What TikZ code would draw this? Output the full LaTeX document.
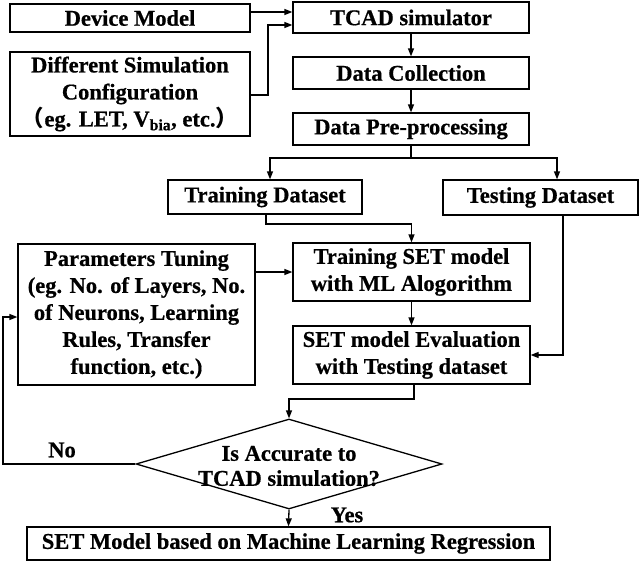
\documentclass[tikz,border=0pt]{standalone}
\usepackage{fontspec}
\setmainfont{Liberation Serif}[BoldFeatures={FakeBold=0.6}]
\newfontfamily\cjkfont{Noto Sans CJK SC}
\usetikzlibrary{shapes.geometric,arrows.meta,calc}
\tikzset{
  box/.style={draw, line width=1.3pt, inner sep=0pt, align=center,
    font=\fontsize{22.5}{27}\selectfont\bfseries},
  arr/.style={line width=1.3pt, -{Triangle[length=8pt,width=6pt]}},
  ln/.style={line width=1.3pt},
  lbl/.style={font=\fontsize{22.5}{25}\selectfont\bfseries, inner sep=0pt, align=center}
}
\begin{document}
\begin{tikzpicture}[x=1pt,y=-1pt]
\useasboundingbox (0,0) rectangle (640,562);
% boxes
\node[box, minimum width=240pt, minimum height=28pt] (dev) at (130,18) {Device Model};
\node[box, minimum width=240pt, minimum height=84pt] (dsc) at (130,94)
  {Different Simulation\\Configuration\\{\cjkfont （}eg. LET, V\textsubscript{bia}, etc.{\cjkfont ）}};
\node[box, minimum width=236pt, minimum height=31pt] (tcad) at (411,17.5) {TCAD simulator};
\node[box, minimum width=236pt, minimum height=32pt] (coll) at (411,73) {Data Collection};
\node[box, minimum width=236pt, minimum height=32pt] (pre) at (411,129) {Data Pre-processing};
\node[box, minimum width=194pt, minimum height=34pt] (train) at (265,197) {Training Dataset};
\node[box, minimum width=195pt, minimum height=35pt] (test) at (540.5,197.5) {Testing Dataset};
\node[box, minimum width=237pt, minimum height=141pt] (param) at (136.5,314.5)
  {Parameters Tuning\\(eg. No. of Layers, No.\\of Neurons, Learning\\Rules, Transfer\\function, etc.)};
\node[box, minimum width=237pt, minimum height=58pt] (tset) at (411.5,272)
  {Training SET model\\with ML Alogorithm};
\node[box, minimum width=237pt, minimum height=58pt] (eval) at (411.5,355)
  {SET model Evaluation\\with Testing dataset};
\node[draw, diamond, line width=1.3pt, inner sep=0pt, minimum width=306pt, minimum height=90pt] (dia) at (289,464) {};
\node[lbl] (diat) at (289,466) {Is Accurate to\\TCAD simulation?};
\node[box, minimum width=523pt, minimum height=33pt] (final) at (288.5,543.5)
  {SET Model based on Machine Learning Regression};
\node[lbl] (no) at (62,450) {No};
\node[lbl] (yes) at (347,515) {Yes};
% connectors
\draw[arr] (dev.east |- 0,12) -- (tcad.west |- 0,12);
\coordinate (k1) at (268,95);
\draw[arr] (dsc.east |- k1) -- (k1) -- (268,25) -- (tcad.west |- 0,25);
\draw[arr] (tcad.south) -- (coll.north);
\draw[arr] (coll.south) -- (pre.north);
\coordinate (j1) at (411,158);
\draw[ln] (pre.south) -- (j1);
\draw[arr] (j1) -| ([xshift=5pt]train.north);
\draw[arr] (j1) -| ([xshift=16.5pt]test.north);
\coordinate (j2) at (266,224);
\draw[arr] ([xshift=1pt]train.south) -- (j2) -| (tset.north);
\draw[arr] (param.east |- tset.west) -- (tset.west);
\draw[arr] (tset.south) -- (eval.north);
\draw[arr] ([xshift=22.5pt]test.south) |- (eval.east);
\coordinate (j3) at (414,399);
\draw[arr] ([xshift=2.5pt]eval.south) -- (j3) -| (dia.north);
\coordinate (j4) at (3,317);
\draw[arr] (dia.west) -| (j4) -- (param.west |- j4);
\draw[arr] (dia.south) -- (final.north);
\end{tikzpicture}
\end{document}
